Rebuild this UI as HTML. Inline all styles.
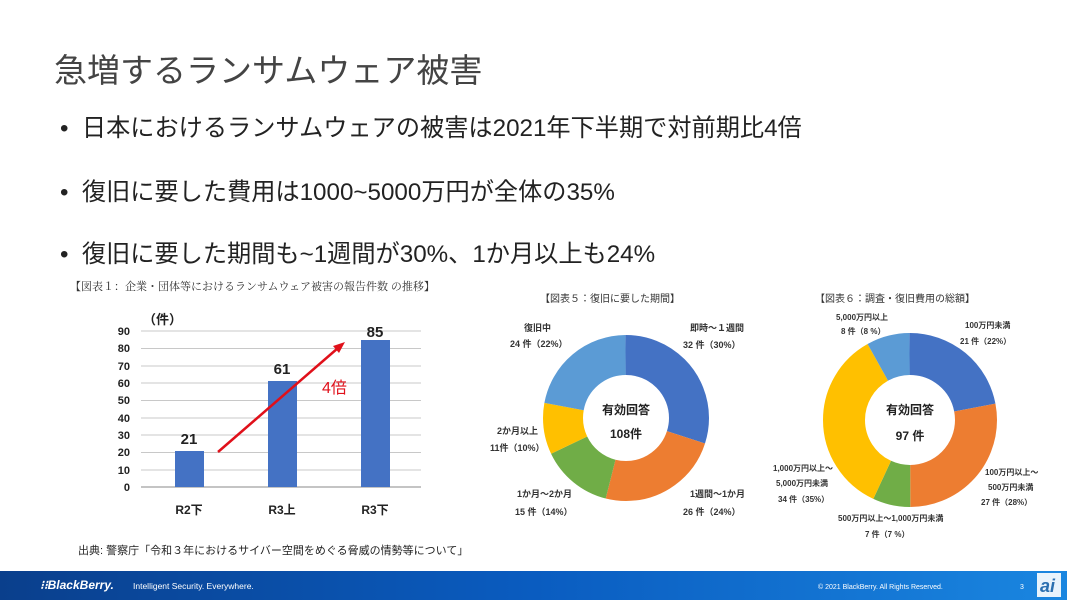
<!DOCTYPE html>
<html><head><meta charset="utf-8"><style>
body{margin:0;width:1067px;height:600px;overflow:hidden;background:#fff;font-family:"Liberation Sans","Noto Sans CJK JP",sans-serif;position:relative}
.t{position:absolute;white-space:nowrap}
</style></head><body>
<div class="t" style="left:54px;top:44px;font-size:33px;color:#444">急増するランサムウェア被害</div>
<div class="t" style="left:60px;top:108px;font-size:24.2px;color:#222">•&nbsp;&nbsp;日本におけるランサムウェアの被害は2021年下半期で対前期比4倍</div>
<div class="t" style="left:60px;top:172px;font-size:24.2px;color:#222">•&nbsp;&nbsp;復旧に要した費用は1000~5000万円が全体の35%</div>
<div class="t" style="left:60px;top:234px;font-size:24.2px;color:#222">•&nbsp;&nbsp;復旧に要した期間も~1週間が30%、1か月以上も24%</div>
<svg width="1067" height="600" style="position:absolute;left:0;top:0" font-family="Liberation Sans, Noto Sans CJK JP, sans-serif">
<text x="70" y="290" font-size="11" fill="#333" font-family="Noto Serif CJK SC, serif">【図表１：企業・団体等におけるランサムウェア被害の報告件数 の推移】</text>
<g stroke="#c8c8c8" stroke-width="1">
<line x1="141" x2="421" y1="331" y2="331"/><line x1="141" x2="421" y1="348.5" y2="348.5"/><line x1="141" x2="421" y1="366" y2="366"/><line x1="141" x2="421" y1="383" y2="383"/><line x1="141" x2="421" y1="400.5" y2="400.5"/><line x1="141" x2="421" y1="418" y2="418"/><line x1="141" x2="421" y1="435" y2="435"/><line x1="141" x2="421" y1="452.5" y2="452.5"/><line x1="141" x2="421" y1="470" y2="470"/>
</g>
<line x1="141" x2="421" y1="487" y2="487" stroke="#888"/>
<g font-size="11" font-weight="bold" fill="#222" text-anchor="end">
<text x="130" y="335">90</text><text x="130" y="352">80</text><text x="130" y="370">70</text><text x="130" y="387">60</text><text x="130" y="404">50</text><text x="130" y="422">40</text><text x="130" y="439">30</text><text x="130" y="456">20</text><text x="130" y="474">10</text><text x="130" y="491">0</text>
</g>
<text x="143" y="324" font-size="13" font-weight="bold" fill="#222">（件）</text>
<g fill="#4472c4"><rect x="175" y="451" width="29" height="36"/><rect x="268" y="381" width="29" height="106"/><rect x="361" y="340" width="29" height="147"/></g>
<g font-size="15" font-weight="bold" fill="#222" text-anchor="middle"><text x="189" y="444">21</text><text x="282" y="374">61</text><text x="375" y="337">85</text></g>
<g font-size="12" font-weight="bold" fill="#222" text-anchor="middle"><text x="189" y="514">R2下</text><text x="282" y="514">R3上</text><text x="375" y="514">R3下</text></g>
<line x1="218" y1="452" x2="338" y2="348" stroke="#e0101a" stroke-width="2.5"/>
<polygon points="345,342 333,346 339,353" fill="#e0101a"/>
<text x="322" y="393" font-size="16" fill="#e0101a">4倍</text>
<text x="78" y="554" font-size="11" fill="#222">出典: 警察庁「令和３年におけるサイバー空間をめぐる脅威の情勢等について」</text>

<text x="540" y="302" font-size="10" fill="#333">【図表５：復旧に要した期間】</text>
<g transform="rotate(-90 626 418)" fill="none" stroke-width="40">
<circle cx="626" cy="418" r="63" pathLength="100" stroke="#4472c4" stroke-dasharray="30 70"/>
<circle cx="626" cy="418" r="63" pathLength="100" stroke="#ed7d31" stroke-dasharray="24 76" stroke-dashoffset="-30"/>
<circle cx="626" cy="418" r="63" pathLength="100" stroke="#70ad47" stroke-dasharray="14 86" stroke-dashoffset="-54"/>
<circle cx="626" cy="418" r="63" pathLength="100" stroke="#ffc000" stroke-dasharray="10 90" stroke-dashoffset="-68"/>
<circle cx="626" cy="418" r="63" pathLength="100" stroke="#5b9bd5" stroke-dasharray="22 78" stroke-dashoffset="-78"/>
</g>
<g font-size="12" font-weight="bold" fill="#222" text-anchor="middle"><text x="626" y="414">有効回答</text><text x="626" y="438">108件</text></g>
<g font-size="9" font-weight="bold" fill="#333">
<text x="524" y="331">復旧中</text><text x="510" y="347">24 件（22%）</text>
<text x="690" y="331">即時～１週間</text><text x="683" y="348">32 件（30%）</text>
<text x="497" y="434">2か月以上</text><text x="490" y="451">11件（10%）</text>
<text x="517" y="497">1か月～2か月</text><text x="515" y="515">15 件（14%）</text>
<text x="690" y="497">1週間～1か月</text><text x="683" y="515">26 件（24%）</text>
</g>

<text x="815" y="302" font-size="10" fill="#333">【図表６：調査・復旧費用の総額】</text>
<g transform="rotate(-90 910 420)" fill="none" stroke-width="42">
<circle cx="910" cy="420" r="66" pathLength="100" stroke="#4472c4" stroke-dasharray="22 78"/>
<circle cx="910" cy="420" r="66" pathLength="100" stroke="#ed7d31" stroke-dasharray="28 72" stroke-dashoffset="-22"/>
<circle cx="910" cy="420" r="66" pathLength="100" stroke="#70ad47" stroke-dasharray="7 93" stroke-dashoffset="-50"/>
<circle cx="910" cy="420" r="66" pathLength="100" stroke="#ffc000" stroke-dasharray="35 65" stroke-dashoffset="-57"/>
<circle cx="910" cy="420" r="66" pathLength="100" stroke="#5b9bd5" stroke-dasharray="8 92" stroke-dashoffset="-92"/>
</g>
<g font-size="12" font-weight="bold" fill="#222" text-anchor="middle"><text x="910" y="414">有効回答</text><text x="910" y="440">97 件</text></g>
<g font-size="8" font-weight="bold" fill="#333">
<text x="836" y="320">5,000万円以上</text><text x="841" y="334">8 件（8 %）</text>
<text x="965" y="328">100万円未満</text><text x="960" y="344">21 件（22%）</text>
<text x="773" y="471">1,000万円以上～</text><text x="776" y="486">5,000万円未満</text><text x="778" y="502">34 件（35%）</text>
<text x="985" y="475">100万円以上～</text><text x="988" y="490">500万円未満</text><text x="981" y="505">27 件（28%）</text>
<text x="838" y="521">500万円以上～1,000万円未満</text><text x="865" y="537">7 件（7 %）</text>
</g>
<defs><linearGradient id="g" x1="0" x2="1"><stop offset="0" stop-color="#0a3f8c"/><stop offset="0.5" stop-color="#0a5cc0"/><stop offset="1" stop-color="#1a86e0"/></linearGradient></defs>
<rect x="0" y="571" width="1067" height="29" fill="url(#g)"/>
<text x="40" y="589" font-size="12" font-weight="bold" font-style="italic" fill="#fff">⁝⁝BlackBerry.</text>
<text x="133" y="589" font-size="8.5" fill="#fff">Intelligent Security. Everywhere.</text>
<text x="818" y="589" font-size="7" fill="#fff">© 2021 BlackBerry. All Rights Reserved.</text>
<text x="1020" y="589" font-size="7" fill="#fff">3</text>
<rect x="1037" y="573" width="24" height="24" fill="#fff" opacity="0.9"/>
<text x="1040" y="592" font-size="18" font-style="italic" font-weight="bold" fill="#2a6fb0">ai</text>
</svg>
</body></html>
